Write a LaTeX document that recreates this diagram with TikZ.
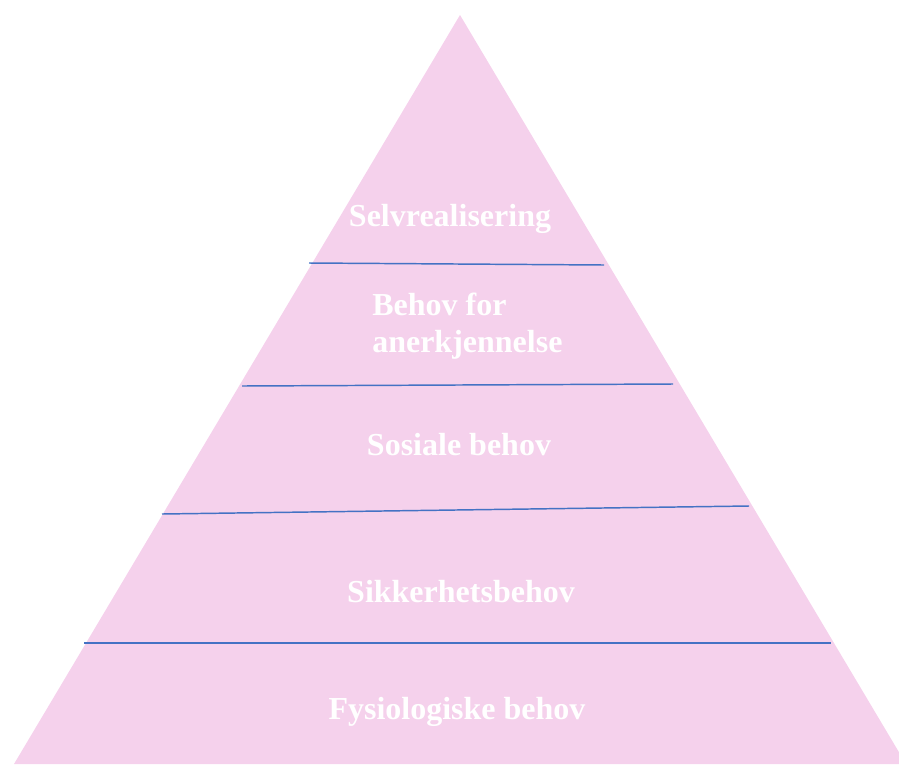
\documentclass[tikz,border=0pt]{standalone}
\usepackage{fontspec}
\setmainfont{Liberation Serif}
\definecolor{pyrpink}{RGB}{245,209,236}
\definecolor{pyrblue}{RGB}{68,114,196}
\tikzset{
  level/.style={text=white, font=\bfseries\fontsize{24}{27.75}\selectfont, inner sep=0pt},
  divider/.style={draw=pyrblue, line width=1.1pt}
}

\begin{document}
\begin{tikzpicture}[x=0.75pt,y=0.75pt,yscale=-1,xscale=1]
\useasboundingbox (0,0) rectangle (899,764);
\clip (0,0) rectangle (899,764);

%Shape: Triangle [id:pyramid]
\fill [pyrpink] (460,15) -- (906,764) -- (14,764) -- cycle ;

%Straight Lines [id:div1]
\draw [divider] (309,263) -- (604,265) ;
%Straight Lines [id:div2]
\draw [divider] (242,386) -- (673,384) ;
%Straight Lines [id:div3]
\draw [divider] (162,514) -- (749,506) ;
%Straight Lines [id:div4]
\draw [divider] (84,643) -- (831,643) ;

% Text Node
\node (selv) [level, anchor=base] at (450,226) {Selvrealisering};
% Text Node
\node (aner) [level, anchor=base west, align=left] at (372,352) {Behov for\\anerkjennelse};
% Text Node
\node (sos) [level, anchor=base] at (459,455) {Sosiale behov};
% Text Node
\node (sikk) [level, anchor=base] at (461,602) {Sikkerhetsbehov};
% Text Node
\node (fys) [level, anchor=base] at (457,719) {Fysiologiske behov};

\end{tikzpicture}
\end{document}
